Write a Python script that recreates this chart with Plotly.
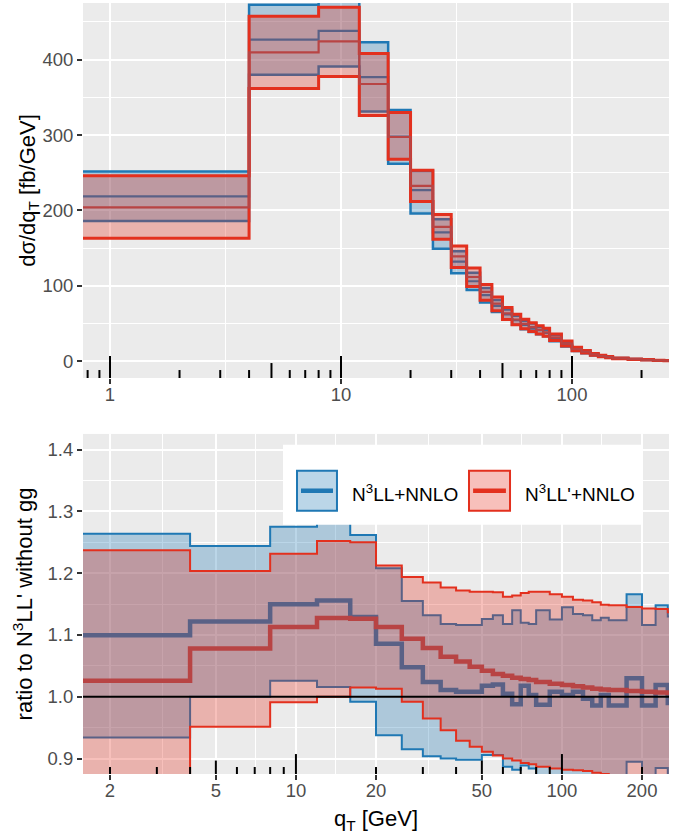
import numpy as np
import plotly.graph_objects as go

# ---------------- data ----------------
# qT bin edges [GeV]
EDGES = [0, 4, 8, 12, 16, 20, 25, 30, 35, 40, 45, 50, 55, 60, 65, 70, 75, 80,
         90, 100, 110, 120, 130, 140, 150, 175, 200, 225, 250, 300]

# reference prediction: N3LL' without gg, dsigma/dqT [fb/GeV] per bin
REF = [199, 380, 381, 326, 264, 209, 163, 129, 105, 87, 73, 61, 53.5, 48, 44,
       40.5, 37.5, 31, 23, 16, 12.5, 9, 7, 5.5, 4, 2.8, 2, 1.4, 0.9]

# ratios to the reference: N3LL+NNLO (blue)
BLUE_MID = [1.0995, 1.122, 1.1496, 1.156, 1.129, 1.086, 1.048, 1.024, 1.011,
            1.008, 1.008, 1.018, 1.02, 1.005, 0.988, 1.018, 1.003, 0.987,
            1.008, 1.003, 1.008, 0.997, 0.986, 1.003, 0.986, 1.03, 0.986,
            1.019, 0.99]
BLUE_HI = [1.264, 1.244, 1.275, 1.297, 1.262, 1.208, 1.155, 1.132, 1.118,
           1.116, 1.116, 1.126, 1.132, 1.118, 1.14, 1.12, 1.118, 1.14, 1.125,
           1.145, 1.134, 1.132, 1.124, 1.128, 1.124, 1.166, 1.116, 1.148, 1.13]
BLUE_LO = [0.934, 1.0, 1.026, 1.016, 0.992, 0.938, 0.915, 0.904, 0.900,
           0.898, 0.898, 0.906, 0.906, 0.887, 0.882, 0.889, 0.884, 0.86,
           0.86, 0.86, 0.86, 0.86, 0.86, 0.86, 0.86, 0.895, 0.86, 0.885, 0.86]

# ratios to the reference: N3LL'+NNLO (red)
RED_MID = [1.026, 1.078, 1.113, 1.1276, 1.1265, 1.113, 1.094, 1.079, 1.065,
           1.057, 1.0485, 1.042, 1.037, 1.034, 1.031, 1.029, 1.027, 1.024,
           1.021, 1.019, 1.017, 1.015, 1.013, 1.012, 1.011, 1.0095, 1.008,
           1.007, 1.006]
RED_HI = [1.237, 1.2035, 1.2315, 1.252, 1.25, 1.2126, 1.194, 1.185, 1.177,
          1.172, 1.17, 1.17, 1.169, 1.162, 1.164, 1.168, 1.17, 1.17, 1.166,
          1.162, 1.157, 1.156, 1.153, 1.149, 1.148, 1.1454, 1.1427, 1.142,
          1.137]
RED_LO = [0.82, 0.9515, 0.991, 1.0, 1.015, 1.013, 0.992, 0.965, 0.946, 0.929,
          0.919, 0.911, 0.905, 0.900, 0.897, 0.893, 0.891, 0.887, 0.884,
          0.882, 0.881, 0.880, 0.877, 0.875, 0.872, 0.86, 0.87, 0.868, 0.866]

SERIES_NAMES = ["N<sup>3</sup>LL+NNLO", "N<sup>3</sup>LL'+NNLO"]

TOP_XTICKS = [1, 10, 100]
TOP_YTICKS = [0, 100, 200, 300, 400]
BOT_XTICKS = [2, 5, 10, 20, 50, 100, 200]
BOT_YTICKS = [0.9, 1.0, 1.1, 1.2, 1.3, 1.4]
TOP_LOGTICKS = [0.8, 0.9, 1, 2, 3, 4, 5, 6, 7, 8, 9, 10, 20, 30, 40, 50, 60,
                70, 80, 90, 100, 200]
BOT_LOGTICKS = [2, 3, 4, 5, 6, 7, 8, 9, 10, 20, 30, 40, 50, 60, 70, 80, 90,
                100, 200]

# ---------------- style ----------------
BLUE = "#1F78B4"
RED = "#E3301E"
BLUE_FILL = "rgba(31,120,180,0.30)"
RED_FILL = "rgba(227,48,30,0.30)"
RED_CENTRAL = "#B84444"
FONT = "Liberation Sans, Arial, Helvetica, sans-serif"

fig = go.Figure()

xs = [max(e, 0.1) for e in EDGES]


def step(vals):
    return list(vals) + [vals[-1]]


def add_band(xa, ya, lo, hi, mid, color, fill, mid_color, lw, mw):
    common = dict(x=xs, mode="lines", xaxis=xa, yaxis=ya, showlegend=False,
                  hoverinfo="skip")
    fig.add_trace(go.Scatter(y=step(lo), line=dict(width=0, shape="hv"),
                             **common))
    fig.add_trace(go.Scatter(y=step(hi), line=dict(width=0, shape="hv"),
                             fill="tonexty", fillcolor=fill, **common))
    fig.add_trace(go.Scatter(y=step(lo), line=dict(color=color, width=lw,
                                                    shape="hv"), **common))
    fig.add_trace(go.Scatter(y=step(hi), line=dict(color=color, width=lw,
                                                    shape="hv"), **common))
    fig.add_trace(go.Scatter(y=step(mid), line=dict(color=mid_color, width=mw,
                                                     shape="hv"), **common))


ref = np.array(REF)
# top panel: absolute distributions
add_band("x", "y", ref * np.array(BLUE_LO), ref * np.array(BLUE_HI),
         ref * np.array(BLUE_MID), BLUE, BLUE_FILL, BLUE, 2.5, 2.2)
add_band("x", "y", ref * np.array(RED_LO), ref * np.array(RED_HI),
         ref * np.array(RED_MID), RED, RED_FILL, RED_CENTRAL, 3, 2.2)
# bottom panel: ratios
add_band("x2", "y2", BLUE_LO, BLUE_HI, BLUE_MID, BLUE, BLUE_FILL, BLUE, 2, 4.5)
add_band("x2", "y2", RED_LO, RED_HI, RED_MID, RED, RED_FILL, RED_CENTRAL, 2, 4.5)

shapes = []
# reference line at ratio 1
shapes.append(dict(type="line", xref="x2 domain", yref="y2", x0=0, x1=1,
                   y0=1, y1=1, line=dict(color="black", width=2),
                   layer="above"))


def logticks(xref, yref, vals, lens):
    for v in vals:
        m = v / 10 ** np.floor(np.log10(v) + 1e-9)
        if abs(m - 1) < 1e-6:
            L = lens[2]
        elif abs(m - 5) < 1e-6:
            L = lens[1]
        else:
            L = lens[0]
        shapes.append(dict(type="line", xref=xref, yref=yref,
                           x0=v, x1=v, y0=0, y1=L,
                           line=dict(color="black", width=2), layer="above"))


logticks("x", "y domain", TOP_LOGTICKS, (8 / 376, 15 / 376, 22 / 376))
logticks("x2", "y2 domain", BOT_LOGTICKS, (7 / 341, 13.5 / 341, 20 / 341))

# legend (drawn manually, ggplot style)
annotations = []
shapes.append(dict(type="rect", xref="paper", yref="paper", x0=0.3413,
                   x1=0.9556, y0=0.3234, y1=0.4269, fillcolor="white",
                   line=dict(width=0), layer="above"))
for (kx0, kx1, tx, col, fcol, name) in [
        (0.3652, 0.4334, 0.4556, BLUE, BLUE_FILL, SERIES_NAMES[0]),
        (0.6587, 0.7287, 0.7509, RED, RED_FILL, SERIES_NAMES[1])]:
    shapes.append(dict(type="rect", xref="paper", yref="paper", x0=kx0,
                       x1=kx1, y0=0.3415, y1=0.3933, fillcolor=fcol,
                       line=dict(color=col, width=2), layer="above"))
    pad = (kx1 - kx0) * 0.1
    shapes.append(dict(type="line", xref="paper", yref="paper", x0=kx0 + pad,
                       x1=kx1 - pad, y0=0.3674, y1=0.3674,
                       line=dict(color=col, width=4.5), layer="above"))
    annotations.append(dict(xref="paper", yref="paper", x=tx, y=0.3640,
                            text=name, showarrow=False, xanchor="left",
                            yanchor="middle",
                            font=dict(family=FONT, size=19, color="black")))

tickfont = dict(family=FONT, size=18.5, color="#4D4D4D")
titlefont = dict(family=FONT, size=22, color="black")


def geo_mid(ticks):
    return [float(np.sqrt(a * b)) for a, b in zip(ticks[:-1], ticks[1:])]


axis_common = dict(showline=False, zeroline=False, ticks="outside",
                   ticklen=5, tickwidth=2, tickcolor="#333333",
                   showgrid=True, gridcolor="white", gridwidth=2,
                   tickfont=tickfont)

fig.update_layout(
    width=679, height=834, autosize=False,
    margin=dict(l=83, r=10, t=3, b=58),
    paper_bgcolor="white", plot_bgcolor="#EBEBEB",
    showlegend=False,
    xaxis=dict(type="log", range=[-0.1169, 2.4199], anchor="y",
               tickvals=TOP_XTICKS, ticktext=[str(v) for v in TOP_XTICKS],
               minor=dict(tickvals=geo_mid([0.1] + TOP_XTICKS + [1000]),
                          showgrid=True, gridcolor="white", gridwidth=1.2),
               ticklabelstandoff=-5,
               **axis_common),
    yaxis=dict(domain=[0.5136, 1.0], range=[-22.1, 475], anchor="x",
               tickvals=TOP_YTICKS, ticktext=[str(v) for v in TOP_YTICKS],
               minor=dict(tickvals=[v + 50 for v in TOP_YTICKS],
                          showgrid=True, gridcolor="white", gridwidth=1.2),
               title=dict(text="dσ/dq<sub>T</sub> [fb/GeV]", font=titlefont,
                          standoff=0),
               **axis_common),
    xaxis2=dict(type="log", range=[0.1995, 2.4025], anchor="y2",
                tickvals=BOT_XTICKS, ticktext=[str(v) for v in BOT_XTICKS],
                minor=dict(tickvals=geo_mid([1] + BOT_XTICKS + [500]),
                           showgrid=True, gridcolor="white", gridwidth=1.2),
                ticklabelstandoff=-5,
                title=dict(text="q<sub>T</sub> [GeV]", font=titlefont,
                           standoff=14),
                **axis_common),
    yaxis2=dict(domain=[0.0, 0.4411], range=[0.8751, 1.4254], anchor="x2",
                tickvals=BOT_YTICKS, ticktext=[f"{v:.1f}" for v in BOT_YTICKS],
                minor=dict(tickvals=[round(v + 0.05, 3) for v in BOT_YTICKS],
                           showgrid=True, gridcolor="white", gridwidth=1.2),
                title=dict(text="ratio to N<sup>3</sup>LL' without gg",
                           font=titlefont, standoff=8),
                **axis_common),
    shapes=shapes,
    annotations=annotations,
)

fig.write_html("out.html")
